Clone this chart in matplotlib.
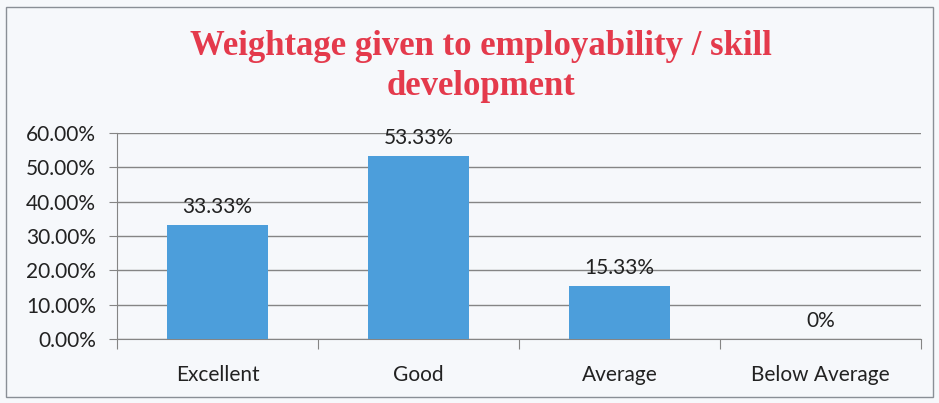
import numpy as np
import matplotlib
matplotlib.use("Agg")
import matplotlib.pyplot as plt
from matplotlib.patches import Rectangle

# dados do gráfico
categorias = ["Excellent", "Good", "Average", "Below Average"]
valores = [33.33, 53.33, 15.33, 0]
rotulos = ["33.33%", "53.33%", "15.33%", "0%"]
yticks = [0, 10, 20, 30, 40, 50, 60]

fundo = "#f6f8fb"
fig = plt.figure(figsize=(9.39, 4.03), dpi=100, facecolor=fundo)
fig.patches.append(Rectangle((0.006, 0.015), 0.988, 0.968, transform=fig.transFigure,
                             fill=False, edgecolor="#8a8f96", linewidth=1.0))

ax = fig.add_axes([0.1246, 0.1588, 0.856, 0.5112])
ax.set_facecolor(fundo)

x = np.arange(len(categorias))
ax.bar(x, valores, width=0.5, color="#4c9edb", zorder=3)

for xi, v, r in zip(x, valores, rotulos):
    ax.annotate(r, (xi, v), xytext=(0, 13), textcoords="offset points",
                ha="center", va="center", fontsize=15, family="Lato", color="#222222")

ax.set_xlim(-0.5, len(categorias) - 0.5)
ax.set_ylim(0, 60)
ax.set_yticks(yticks)
ax.set_yticklabels([f"{t:.2f}%" for t in yticks], fontsize=15, family="Lato", color="#222222")
ax.yaxis.grid(True, color="#858585", linewidth=1.0, zorder=0)

# ticks do eixo x nas fronteiras das categorias
ax.set_xticks(np.arange(-0.5, len(categorias), 1.0))
ax.set_xticklabels([])
ax.set_xticks(x, minor=True)
ax.set_xticklabels(categorias, minor=True, fontsize=15, family="Lato", color="#222222")
ax.tick_params(axis="x", which="minor", length=0, pad=19)
ax.tick_params(axis="x", which="major", length=7, color="#858585")
ax.tick_params(axis="y", length=6, color="#858585", pad=9)

for s in ["top", "right"]:
    ax.spines[s].set_visible(False)
ax.spines["left"].set_color("#858585")
ax.spines["bottom"].set_color("#858585")

fig.text(0.512, 0.835, "Weightage given to employability / skill\ndevelopment",
         ha="center", va="center", fontsize=25, fontweight="bold",
         family="Liberation Serif", color="#e43a4c", linespacing=1.3)

plt.savefig("out.png", dpi=100, facecolor=fundo)
plt.close()
